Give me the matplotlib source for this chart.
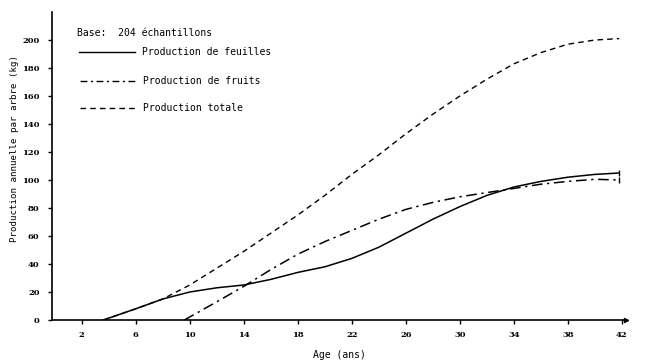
import matplotlib
matplotlib.use("Agg")
import matplotlib.pyplot as plt

# Production par arbre selon l'age
ages_feuilles = [3.6, 6, 8, 10, 12, 14, 16, 18, 20, 22, 24, 26, 28, 30, 32, 34, 36, 38, 40, 41.8]
feuilles = [0, 8, 15, 20, 23, 25, 29, 34, 38, 44, 52, 62, 72, 81, 89, 95, 99, 102, 104, 105]

ages_fruits = [9.6, 12, 14, 16, 18, 20, 22, 24, 26, 28, 30, 32, 34, 36, 38, 40, 41.8]
fruits = [0, 13, 24, 36, 47, 56, 64, 72, 79, 84, 88, 91, 94, 97, 99, 100.5, 100]

ages_total = [3.6, 6, 8, 10, 12, 14, 16, 18, 20, 22, 24, 26, 28, 30, 32, 34, 36, 38, 40, 41.8]
total = [0, 8, 15, 25, 37, 49, 62, 75, 89, 104, 118, 133, 147, 160, 172, 183, 191, 197, 200, 201]

x_ticks = [2, 6, 10, 14, 18, 22, 26, 30, 34, 38, 42]
y_ticks = [0, 20, 40, 60, 80, 100, 120, 140, 160, 180, 200]

mono = "DejaVu Sans Mono"

fig = plt.figure(figsize=(6.5, 3.63), dpi=100)
ax = fig.add_axes([52 / 650, 1 - 320 / 363, 574 / 650, 308 / 363])

ax.plot(ages_feuilles, feuilles, color="k", lw=1.1, marker="|", ms=4, markevery=[-1])
ax.plot(ages_fruits, fruits, color="k", lw=1.1, dashes=(7, 3, 1.5, 3), marker="|", ms=4, markevery=[-1])
ax.plot(ages_total, total, color="k", lw=1.0, dashes=(4, 3))

ax.set_xlim(-0.2, 42.3)
ax.set_ylim(0, 220)
ax.spines["top"].set_visible(False)
ax.spines["right"].set_visible(False)
ax.spines["left"].set_linewidth(1.2)
ax.spines["bottom"].set_linewidth(1.2)
ax.plot(1, 0, ">k", ms=3, transform=ax.transAxes, clip_on=False)

ax.set_xticks(x_ticks)
ax.set_yticks(y_ticks)
ax.tick_params(length=3, width=1, direction="out")
ax.tick_params(axis="y", pad=6)
ax.tick_params(axis="x", pad=5)
for lab in ax.get_xticklabels() + ax.get_yticklabels():
    lab.set_fontfamily("DejaVu Serif")
    lab.set_fontweight("bold")
    lab.set_fontsize(6)

ax.set_xlabel("Age (ans)", fontfamily=mono, fontsize=7)
ax.xaxis.set_label_coords(0.5, -0.097)
ax.set_ylabel("Production annuelle par arbre (kg)", fontfamily=mono, fontsize=6.6)
ax.yaxis.set_label_coords(-0.057, 0.558)

# legende manuelle
ax.text(0.0436, 0.932, "Base:  204 échantillons", transform=ax.transAxes,
        fontfamily=mono, fontsize=7, va="center")
legend_rows = [
    ("Production de feuilles", {"ls": "-"}, 0.870, 0.047, 0.145, 0.156),
    ("Production de fruits", {"dashes": (5, 2.5, 1.5, 2.5)}, 0.776, 0.049, 0.150, 0.159),
    ("Production totale", {"dashes": (4, 3)}, 0.688, 0.049, 0.150, 0.159),
]
for label, style, yy, x0, x1, xt in legend_rows:
    ax.plot([x0, x1], [yy, yy], color="k", lw=1.0, transform=ax.transAxes, **style)
    ax.text(xt, yy, label, transform=ax.transAxes, fontfamily=mono, fontsize=7, va="center")

fig.savefig("out.png", dpi=100)
